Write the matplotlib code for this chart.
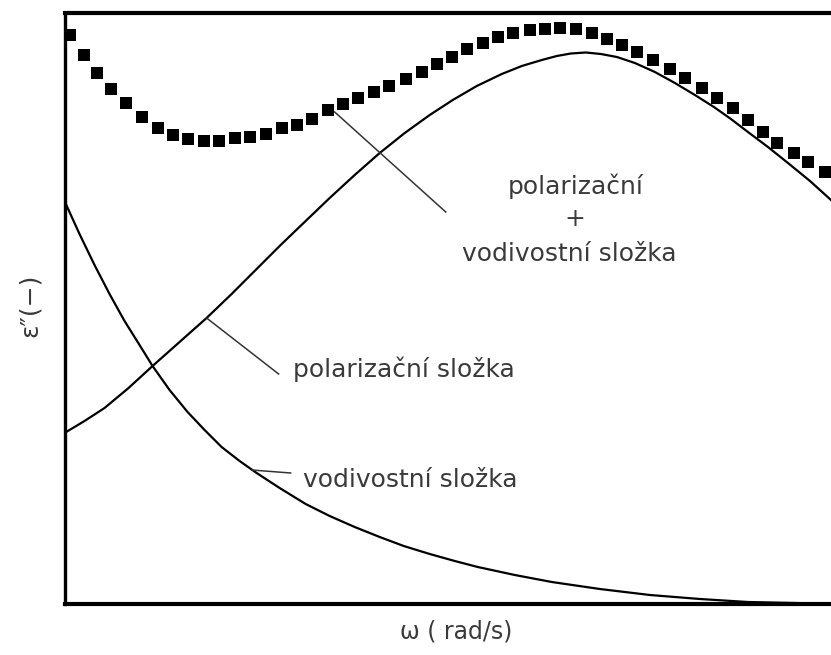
"""
Dielectric loss factor vs. angular frequency: polarization and conduction parts.
"""

import matplotlib
matplotlib.use("Agg")
import matplotlib.pyplot as plt

# Measured total loss (squares), arbitrary units
omega_meas = [5, 19, 32, 46, 61, 77, 93, 108, 123, 139, 154, 170, 185, 201, 217,
              232, 247, 263, 278, 293, 309, 324, 341, 357, 372, 387, 402, 418, 433,
              448, 465, 480, 495, 511, 527, 542, 557, 572, 588, 605, 620, 637, 652,
              668, 683, 698, 712, 729, 743, 760]
eps_meas = [569, 549, 531, 515, 501, 487, 476, 469, 465, 463, 463, 466, 467, 470, 476,
            479, 485, 494, 500, 506, 512, 518, 525, 532, 540, 547, 555, 561, 567,
            571, 574, 575, 576, 575, 571, 565, 559, 552, 544, 535, 526, 516, 506,
            496, 484, 472, 461, 451, 442, 432]

# Polarization component
omega_pol = [0, 20, 40, 64, 88, 115, 142, 167, 192, 216, 241, 265, 290, 315, 340,
             365, 388, 412, 437, 457, 477, 492, 506, 521, 536, 552, 570, 590, 610,
             630, 649, 666, 683, 703, 723, 745, 766, 771]
eps_pol = [171, 183, 196, 216, 238, 262, 286, 310, 335, 359, 383, 406, 429, 451, 471,
           489, 504, 518, 530, 538, 544, 548, 550.5, 551.5, 550, 547, 541, 532, 521,
           509, 497, 485, 472, 457, 441, 423, 404, 399]

# Conduction component
omega_cond = [0, 15, 30, 45, 60, 75, 88, 105, 123, 140, 157, 175, 192, 215, 241,
              265, 290, 315, 339, 365, 390, 413, 450, 487, 535, 585, 635, 683, 730,
              771]
eps_cond = [403, 370, 339, 310, 283, 259, 238, 214, 192, 174, 157, 143, 131, 116, 100,
            88, 77, 67, 58, 50, 43, 37, 29, 22, 15, 9, 5, 2, 1, 0]

TEXT_COLOR = "#3a3a3a"

fig = plt.figure(figsize=(8.31, 6.55), dpi=100)
ax = fig.add_axes([64.5 / 831, 51 / 655, (836 - 64.5) / 831, 591 / 655])

ax.plot(omega_pol, eps_pol, color="black", linewidth=1.6)
ax.plot(omega_cond, eps_cond, color="black", linewidth=1.6)
ax.plot(omega_meas, eps_meas, linestyle="none", marker="s", markersize=8.8,
        color="black", markeredgewidth=0)

# leader lines to the labels
leaders = [((270, 381), (492, 392)),
           ((142, 214), (286, 230)),
           ((187, 226), (134, 131))]
for xs, ys in leaders:
    ax.plot(xs, ys, color="#333333", linewidth=1.1)

fs = 18
ax.text(511, 418, "polarizační", ha="center", va="center", fontsize=fs, color=TEXT_COLOR)
ax.text(510, 385, "+", ha="center", va="center", fontsize=fs, color=TEXT_COLOR)
ax.text(504, 350, "vodivostní složka", ha="center", va="center", fontsize=fs, color=TEXT_COLOR)
ax.text(228, 235, "polarizační složka", ha="left", va="center", fontsize=fs, color=TEXT_COLOR)
ax.text(238, 124, "vodivostní složka", ha="left", va="center", fontsize=fs, color=TEXT_COLOR)

ax.set_xlim(0, 771)
ax.set_ylim(0, 591)
ax.set_xticks([])
ax.set_yticks([])
ax.spines["right"].set_visible(False)
ax.spines["left"].set_linewidth(2.4)
ax.spines["top"].set_linewidth(3.0)
ax.spines["bottom"].set_linewidth(3.0)

fig.text(456 / 831, 1 - 632 / 655, "ω ( rad/s)", ha="center", va="center",
         fontsize=17, color=TEXT_COLOR)
fig.text(30 / 831, 1 - 305 / 655, "ε\u2033(\u2212)", ha="center", va="center",
         rotation=90, fontsize=18, color=TEXT_COLOR)

fig.savefig("out.png", dpi=100, facecolor="white")
